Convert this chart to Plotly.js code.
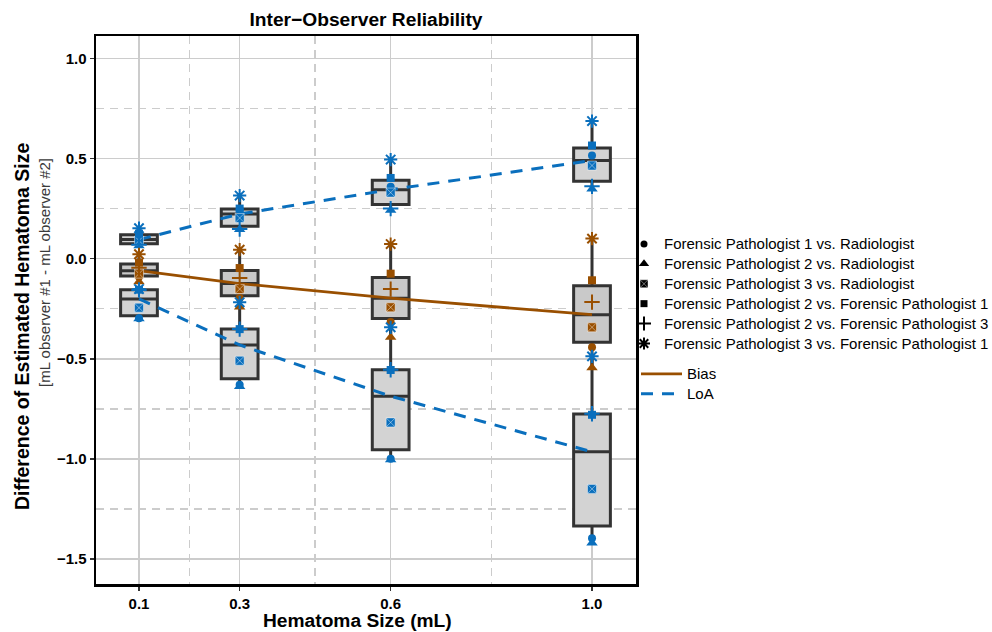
<!DOCTYPE html>
<html><head><meta charset="utf-8">
<script src="https://cdn.plot.ly/plotly-3.0.1.min.js"></script>
<style>html,body{margin:0;padding:0;background:#fff}#chart{width:992px;height:632px}</style>
</head><body><div id="chart"></div>
<script>
// ---- data ----
const sizes = [0.1, 0.3, 0.6, 1.0];
const sizeLabels = ['0.1', '0.3', '0.6', '1.0'];
const comparisons = [
  'Forensic Pathologist 1 vs. Radiologist',
  'Forensic Pathologist 2 vs. Radiologist',
  'Forensic Pathologist 3 vs. Radiologist',
  'Forensic Pathologist 2 vs. Forensic Pathologist 1',
  'Forensic Pathologist 2 vs. Forensic Pathologist 3',
  'Forensic Pathologist 3 vs. Forensic Pathologist 1'
];
const symbols = ['circle', 'triangle-up', 'square-x', 'square', 'cross-thin-open', 'asterisk-open'];
const symbolSizes = [8, 10, 9, 8, 11, 11];
// rows = comparisons (same order as above), columns = hematoma sizes
const upperLoA = [
  [0.100, 0.243, 0.359, 0.515],
  [0.065, 0.145, 0.242, 0.348],
  [0.090, 0.203, 0.330, 0.465],
  [0.125, 0.250, 0.403, 0.565],
  [0.070, 0.148, 0.250, 0.361],
  [0.152, 0.315, 0.495, 0.687]
];
const bias = [
  [-0.090, -0.197, -0.317, -0.443],
  [-0.115, -0.242, -0.393, -0.545],
  [-0.075, -0.152, -0.243, -0.343],
  [-0.020, -0.047, -0.075, -0.108],
  [-0.045, -0.097, -0.152, -0.217],
  [ 0.022,  0.045,  0.073,  0.100]
];
const lowerLoA = [
  [-0.298, -0.630, -1.000, -1.397],
  [-0.300, -0.638, -1.005, -1.420],
  [-0.245, -0.510, -0.818, -1.150],
  [-0.155, -0.352, -0.556, -0.780],
  [-0.157, -0.352, -0.555, -0.775],
  [-0.152, -0.218, -0.343, -0.488]
];

// ---- styling ----
const BROWN = '#994F00';
const BLUE = '#0A6FBD';
const FONT = 'Liberation Sans, Arial, sans-serif';

function column(mat, j) { return mat.map(r => r[j]); }
// R type-7 quantile
function quantile(a, p) {
  const s = a.slice().sort((u, v) => u - v);
  const h = (s.length - 1) * p, lo = Math.floor(h), hi = Math.ceil(h);
  return s[lo] + (h - lo) * (s[hi] - s[lo]);
}
function boxStats(mat) {
  const st = {q1: [], med: [], q3: [], lf: [], uf: []};
  sizes.forEach((_, j) => {
    const c = column(mat, j);
    const q1 = quantile(c, 0.25), q3 = quantile(c, 0.75), iqr = q3 - q1;
    st.q1.push(q1); st.med.push(quantile(c, 0.5)); st.q3.push(q3);
    st.lf.push(Math.min(...c.filter(v => v >= q1 - 1.5 * iqr)));
    st.uf.push(Math.max(...c.filter(v => v <= q3 + 1.5 * iqr)));
  });
  return st;
}

const traces = [];
function boxTrace(mat, fill) {
  const st = boxStats(mat);
  return {
    type: 'box', x: sizes, q1: st.q1, median: st.med, q3: st.q3,
    lowerfence: st.lf, upperfence: st.uf, width: 0.073, boxpoints: false,
    whiskerwidth: 0, fillcolor: fill, line: {color: '#333333', width: 3},
    hoverinfo: 'skip', showlegend: false
  };
}
traces.push(boxTrace(upperLoA, '#D3D3D3'));
traces.push(boxTrace(bias, '#C9C9C9'));
traces.push(boxTrace(lowerLoA, '#D3D3D3'));

// lines through medians
const biasMed = sizes.map((_, j) => quantile(column(bias, j), 0.5));
const upMed = sizes.map((_, j) => quantile(column(upperLoA, j), 0.5));
const loMed = sizes.map((_, j) => quantile(column(lowerLoA, j), 0.5));
traces.push({
  type: 'scatter', mode: 'lines', x: sizes, y: biasMed, name: '<span style="font-size:15px">Bias</span>',
  line: {color: BROWN, width: 2.8}, legend: 'legend2', hoverinfo: 'skip'
});
traces.push({
  type: 'scatter', mode: 'lines', x: sizes.concat([null], sizes), y: upMed.concat([null], loMed),
  name: '<span style="font-size:15px">LoA</span>', connectgaps: false,
  line: {color: BLUE, width: 3, dash: '12px,9px'}, legend: 'legend2', hoverinfo: 'skip'
});

// points
comparisons.forEach((name, i) => {
  const xs = sizes.concat(sizes, sizes);
  const ys = upperLoA[i].concat(bias[i], lowerLoA[i]);
  const cols = sizes.map(() => BLUE).concat(sizes.map(() => BROWN), sizes.map(() => BLUE));
  const sym = symbols[i];
  const open = sym.endsWith('-open');
  const lineCol = sym === 'square-x' ? 'rgba(255,255,255,0.55)' : cols;
  const lineW = open ? 2 : (sym === 'square-x' ? 0.8 : 0);
  traces.push({
    type: 'scatter', mode: 'markers', x: xs, y: ys, showlegend: false, hoverinfo: 'skip',
    marker: {symbol: sym, size: symbolSizes[i], color: cols, line: {color: lineCol, width: lineW}}
  });
});
// legend entries (black symbols)
comparisons.forEach((name, i) => {
  const sym = symbols[i];
  const open = sym.endsWith('-open');
  traces.push({
    type: 'scatter', mode: 'markers', x: [null], y: [null], legend: 'legend',
    name: '<span style="font-size:15px">' + name + '</span>',
    marker: {symbol: sym, size: symbolSizes[i] - 1, color: '#000',
      line: {color: sym === 'square-x' ? 'rgba(255,255,255,0.55)' : '#000', width: open ? 2 : (sym === 'square-x' ? 0.8 : 0)}}
  });
});

const L = 96, R = 636, T = 36, B = 584;
const W = R - L, H = B - T;
const px = v => (v - L) / W;
const py = v => (B - v) / H;

const layout = {
  width: 992, height: 632,
  margin: {l: L, r: 992 - R, t: T, b: 632 - B, autoexpand: false},
  paper_bgcolor: '#fff', plot_bgcolor: '#fff',
  font: {family: FONT, color: '#000'},
  boxmode: 'overlay',
  showlegend: true,
  title: {text: '<b>Inter\u2212Observer Reliability</b>', font: {size: 19.2, color: '#000'},
    xref: 'paper', x: 0.5, xanchor: 'center', y: 1 - 19 / 632, yanchor: 'middle'},
  xaxis: {
    range: [0.0146, 1.0874], tickmode: 'array', tickvals: sizes, ticktext: sizeLabels,
    showgrid: true, gridcolor: '#CCCCCC', gridwidth: 1.5, zeroline: false,
    showline: true, mirror: true, linecolor: '#000', linewidth: 2.5,
    ticks: 'outside', ticklen: 4, tickwidth: 1.5, tickcolor: '#333',
    tickfont: {size: 15, color: '#000', family: FONT, weight: 'bold'},
    minor: {tickmode: 'array', tickvals: [0.2, 0.45, 0.8], showgrid: true, gridcolor: '#CCCCCC', gridwidth: 1.5, griddash: '8px,6px', ticks: ''}
  },
  yaxis: {
    range: [-1.625, 1.112], tickmode: 'array', tickvals: [-1.5, -1, -0.5, 0, 0.5, 1],
    tickformat: '.1f',
    showgrid: true, gridcolor: '#CCCCCC', gridwidth: 1.5, zeroline: false,
    showline: true, mirror: true, linecolor: '#000', linewidth: 2.5,
    ticks: 'outside', ticklen: 4, tickwidth: 1.5, tickcolor: '#333',
    tickfont: {size: 15, color: '#000', family: FONT, weight: 'bold'},
    minor: {tickmode: 'array', tickvals: [-1.25, -0.75, -0.25, 0.25, 0.75], showgrid: true, gridcolor: '#CCCCCC', gridwidth: 1.5, griddash: '8px,6px', ticks: ''}
  },
  annotations: [
    {text: '<b>Hematoma Size (mL)</b>', xref: 'paper', yref: 'paper',
      x: px(357), y: py(621), xanchor: 'center', yanchor: 'middle', showarrow: false,
      font: {size: 19.2, color: '#000', family: FONT}},
    {text: '<b>Difference of Estimated Hematoma Size</b>', textangle: -90, xref: 'paper', yref: 'paper',
      x: px(22), y: py(326), xanchor: 'center', yanchor: 'middle', showarrow: false,
      font: {size: 19.5, color: '#000', family: FONT}},
    {text: '[mL observer #1 - mL observer #2]', textangle: -90, xref: 'paper', yref: 'paper',
      x: px(44), y: py(273), xanchor: 'center', yanchor: 'middle', showarrow: false,
      font: {size: 15, color: '#3A3A3A', family: FONT}}
  ],
  legend: {x: px(624), xanchor: 'left', y: py(229), yanchor: 'top', bgcolor: 'rgba(0,0,0,0)',
    borderwidth: 0, font: {size: 13, color: '#000', family: FONT}, itemclick: false, itemdoubleclick: false},
  legend2: {x: px(636), xanchor: 'left', y: py(359), yanchor: 'top', bgcolor: 'rgba(0,0,0,0)',
    borderwidth: 0, itemwidth: 41, font: {size: 13, color: '#000', family: FONT}, itemclick: false, itemdoubleclick: false}
};

Plotly.newPlot('chart', traces, layout, {displayModeBar: false, staticPlot: true});
</script>
</body></html>
